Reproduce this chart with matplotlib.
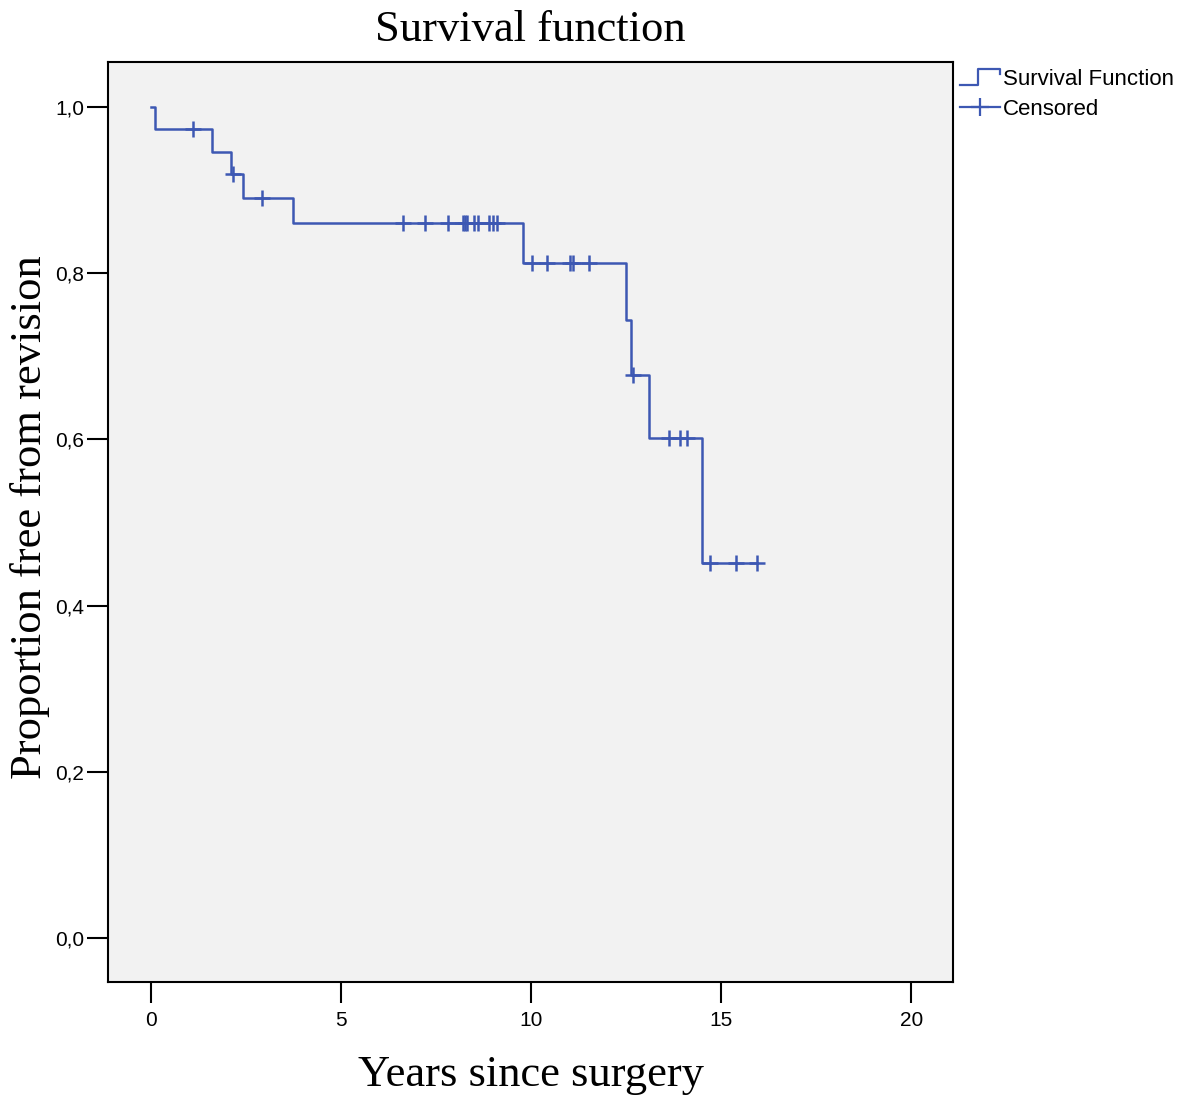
import numpy as np
import matplotlib
matplotlib.use('Agg')
import matplotlib.pyplot as plt
from matplotlib.lines import Line2D
from matplotlib.legend_handler import HandlerBase

plt.rcParams.update({'font.size': 15, 'font.family': 'Liberation Sans'})

# Kaplan-Meier steps (time of drop, survival after drop)
step_t = [0.0, 0.1, 1.62, 2.12, 2.41, 3.73, 9.8, 12.5, 12.62, 13.1, 14.5]
step_s = [1.0, 0.973, 0.946, 0.919, 0.890, 0.860, 0.812, 0.744, 0.677, 0.602, 0.451]
end_t = 15.95

# censored observations
cens_t = [1.11, 2.15, 2.91, 6.62, 7.21, 7.82, 8.22, 8.27, 8.32, 8.51, 8.6,
          8.9, 9.0, 9.11, 10.03, 10.42, 11.03, 11.1, 11.53, 12.69,
          13.63, 13.92, 14.1, 14.7, 15.4, 15.95]

xticks = [0, 5, 10, 15, 20]
yticks = [0.0, 0.2, 0.4, 0.6, 0.8, 1.0]
ylabels = ['0,0', '0,2', '0,4', '0,6', '0,8', '1,0']

blue = '#3d58b3'


class StepHandler(HandlerBase):
    # legend sample drawn as a small step, like SPSS does
    def create_artists(self, legend, orig_handle, xdescent, ydescent,
                       width, height, fontsize, trans):
        x = [-xdescent, width * 0.45, width * 0.45, width, width]
        lo, hi = height * 0.0, height * 1.0
        y = [lo, lo, hi, hi, hi * 0.7]
        ln = Line2D(x, y, color=blue, lw=1.6, transform=trans)
        return [ln]


fig = plt.figure(figsize=(11.81, 10.97), dpi=100)
ax = fig.add_axes([0.0914, 0.1048, 0.7155, 0.8387])
ax.set_facecolor('#f2f2f2')

t = step_t + [end_t]
s = step_s + [step_s[-1]]
surv_line, = ax.step(t, s, where='post', color=blue, lw=1.8)

idx = np.searchsorted(step_t, cens_t, side='right') - 1
cens_s = [step_s[i] for i in idx]
cens_pts, = ax.plot(cens_t, cens_s, ls='none', marker='+', ms=12, mew=1.8, color=blue)

ax.set_xlim(-1.13, 21.1)
ax.set_ylim(-0.053, 1.054)
ax.set_xticks(xticks)
ax.set_yticks(yticks)
ax.set_yticklabels(ylabels)
ax.tick_params(length=15, width=1.5, direction='out', pad=2)
ax.tick_params(axis='x', pad=6)
for sp in ax.spines.values():
    sp.set_linewidth(1.5)

ax.set_title('Survival function', family='Liberation Serif', fontsize=32, pad=15)
ax.set_xlabel('Years since surgery', family='Liberation Serif', fontsize=32)
ax.set_ylabel('Proportion free from revision', family='Liberation Serif', fontsize=32)
ax.xaxis.set_label_coords(0.5, -0.079)
ax.yaxis.set_label_coords(-0.069, 0.505)

cens_handle = Line2D([], [], color=blue, lw=1.6, marker='+', ms=13, mew=1.6)
ax.legend([surv_line, cens_handle], ['Survival Function', 'Censored'],
          handler_map={surv_line: StepHandler()},
          loc='upper left', bbox_to_anchor=(1.0, 1.0), frameon=False,
          fontsize=16, handlelength=1.8, handletextpad=0.14, borderaxespad=0.1,
          labelspacing=0.42, borderpad=0.2)

plt.savefig('out.png', dpi=100)
